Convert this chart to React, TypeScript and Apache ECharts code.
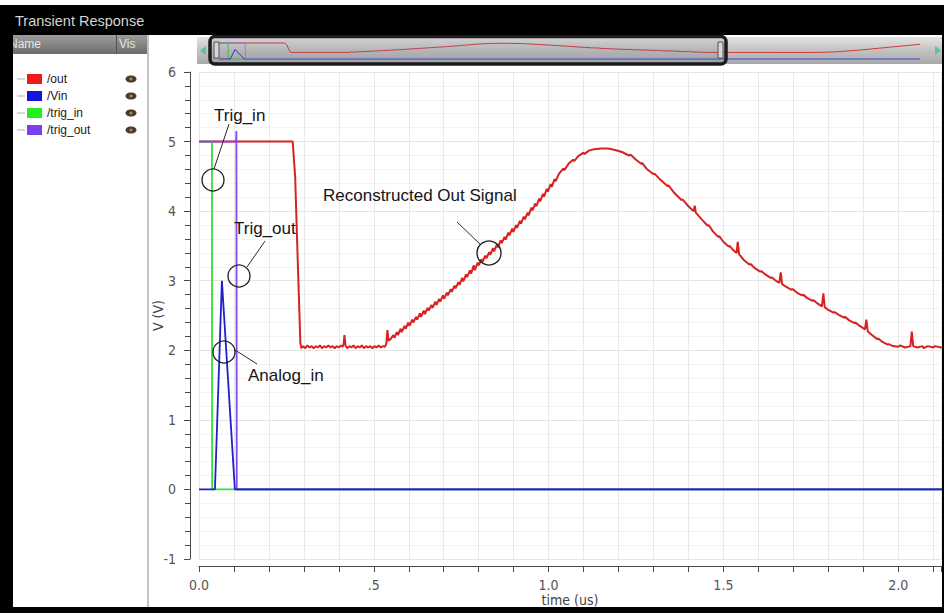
import React, { useEffect, useRef } from "react";
import * as echarts from "echarts";

// ---------------- DATA ----------------
const seriesNames = ["/out", "/Vin", "/trig_in", "/trig_out"];
const seriesColors = ["#d82222", "#1f1fcc", "#3ade3a", "#8448ee"];
const legendColors = ["#f01818", "#1414e0", "#22ee22", "#7a40f0"];

// /out : time (us), voltage (V)
const outHigh: [number, number][] = [
  [0, 5.0], [0.268, 5.0], [0.275, 4.5], [0.283, 3.2], [0.29, 2.1], [0.293, 2.03],
];
const outFlat: [number, number][] = [
  [0.298, 2.06], [0.304, 2.03], [0.31, 2.07], [0.316, 2.04], [0.322, 2.06], [0.328, 2.03],
  [0.334, 2.06], [0.34, 2.04], [0.346, 2.07], [0.352, 2.03], [0.358, 2.06], [0.364, 2.04],
  [0.37, 2.07], [0.376, 2.04], [0.382, 2.06], [0.388, 2.03], [0.394, 2.06], [0.4, 2.04],
  [0.406, 2.07], [0.411, 2.05], [0.414, 2.1], [0.416, 2.22], [0.419, 2.07], [0.424, 2.03],
  [0.43, 2.06], [0.436, 2.04], [0.442, 2.07], [0.448, 2.03], [0.454, 2.06], [0.46, 2.04],
  [0.466, 2.07], [0.472, 2.03], [0.478, 2.06], [0.484, 2.04], [0.49, 2.06], [0.496, 2.03],
  [0.502, 2.06], [0.508, 2.04], [0.514, 2.07], [0.52, 2.04], [0.526, 2.06], [0.532, 2.05],
  [0.536, 2.1], [0.539, 2.29], [0.542, 2.14],
];
const outRise: [number, number][] = [
  [0.548, 2.16], [0.556, 2.22], [0.559, 2.18], [0.566, 2.26], [0.569, 2.22], [0.577, 2.31],
  [0.58, 2.26], [0.588, 2.35], [0.591, 2.31], [0.599, 2.4], [0.602, 2.35], [0.61, 2.44],
  [0.613, 2.4], [0.621, 2.48], [0.624, 2.44], [0.632, 2.53], [0.635, 2.48], [0.643, 2.57],
  [0.646, 2.52], [0.654, 2.61], [0.657, 2.57], [0.665, 2.65], [0.668, 2.61], [0.676, 2.7],
  [0.679, 2.65], [0.687, 2.74], [0.69, 2.7], [0.698, 2.79], [0.701, 2.74], [0.709, 2.83],
  [0.712, 2.79], [0.72, 2.88], [0.723, 2.84], [0.731, 2.93], [0.734, 2.89], [0.742, 2.98],
  [0.745, 2.94], [0.753, 3.04], [0.756, 2.99], [0.764, 3.09], [0.767, 3.05], [0.775, 3.15],
  [0.778, 3.1], [0.786, 3.22], [0.789, 3.15], [0.797, 3.26], [0.8, 3.22], [0.808, 3.31],
  [0.811, 3.27], [0.819, 3.36], [0.822, 3.32], [0.83, 3.41], [0.833, 3.37], [0.841, 3.47],
  [0.844, 3.42], [0.852, 3.52], [0.855, 3.48], [0.863, 3.58], [0.866, 3.54], [0.874, 3.63],
  [0.877, 3.59], [0.885, 3.69], [0.888, 3.65], [0.896, 3.75], [0.899, 3.7], [0.907, 3.8],
  [0.91, 3.76], [0.918, 3.86], [0.921, 3.82], [0.929, 3.92], [0.932, 3.88], [0.94, 3.98],
  [0.943, 3.94], [0.951, 4.05], [0.954, 4.01], [0.962, 4.11], [0.965, 4.07], [0.973, 4.18],
  [0.976, 4.14], [0.984, 4.25], [0.987, 4.21], [0.995, 4.32], [0.998, 4.28], [1.006, 4.39],
  [1.009, 4.35], [1.017, 4.46], [1.02, 4.43], [1.03, 4.54], [1.042, 4.61], [1.045, 4.59],
  [1.057, 4.68], [1.07, 4.74], [1.073, 4.72], [1.085, 4.79], [1.1, 4.84], [1.103, 4.82],
  [1.115, 4.87], [1.13, 4.89], [1.15, 4.9], [1.17, 4.9], [1.19, 4.88],
];
const outFall: [number, number][] = [
  [1.21, 4.85], [1.23, 4.8], [1.235, 4.81], [1.25, 4.74], [1.265, 4.68], [1.268, 4.69],
  [1.28, 4.61], [1.3, 4.53], [1.303, 4.54], [1.32, 4.45], [1.34, 4.36], [1.343, 4.37],
  [1.36, 4.26], [1.38, 4.16], [1.383, 4.17], [1.4, 4.07], [1.415, 4.0], [1.418, 4.08],
  [1.421, 3.98], [1.44, 3.87], [1.455, 3.79], [1.458, 3.8], [1.47, 3.71], [1.485, 3.63],
  [1.488, 3.64], [1.5, 3.56], [1.515, 3.49], [1.518, 3.5], [1.53, 3.43], [1.538, 3.4],
  [1.541, 3.56], [1.545, 3.38], [1.56, 3.29], [1.575, 3.23], [1.578, 3.24], [1.59, 3.18],
  [1.605, 3.13], [1.608, 3.14], [1.62, 3.09], [1.635, 3.04], [1.638, 3.05], [1.65, 3.0],
  [1.66, 2.97], [1.664, 3.12], [1.668, 2.95], [1.68, 2.91], [1.695, 2.87], [1.698, 2.88],
  [1.71, 2.83], [1.725, 2.79], [1.728, 2.8], [1.74, 2.75], [1.755, 2.71], [1.758, 2.72],
  [1.77, 2.67], [1.782, 2.63], [1.786, 2.82], [1.79, 2.62], [1.8, 2.58], [1.815, 2.54],
  [1.818, 2.55], [1.83, 2.51], [1.845, 2.47], [1.848, 2.48], [1.86, 2.43], [1.875, 2.39],
  [1.878, 2.4], [1.89, 2.35], [1.905, 2.3], [1.909, 2.44], [1.913, 2.27], [1.925, 2.22],
  [1.94, 2.16], [1.943, 2.17], [1.955, 2.12], [1.97, 2.08], [1.973, 2.09], [1.985, 2.06],
  [2.0, 2.05], [2.005, 2.07], [2.02, 2.04], [2.035, 2.06], [2.039, 2.27], [2.043, 2.06],
  [2.055, 2.04], [2.07, 2.06], [2.073, 2.03], [2.085, 2.06], [2.1, 2.04], [2.105, 2.06],
  [2.123, 2.04],
];
// part of /out only seen in the overview strip
const outTail: [number, number][] = [
  [2.2, 2.06], [2.3, 2.04], [2.44, 2.05], [2.5, 2.2], [2.6, 2.75], [2.7, 3.5], [2.85, 4.6],
];
const outPoints = [...outHigh, ...outFlat, ...outRise, ...outFall, ...outTail];

const vinPoints: [number, number][] = [[0, 0], [0.0456, 0], [0.0655, 3.0], [0.1026, 0], [2.85, 0]];
const trigInPoints: [number, number][] = [[0, 5], [0.037, 5], [0.0375, 0], [2.85, 0]];
const trigOutPoints: [number, number][] = [[0, 5], [0.106, 5], [0.107, 5.15], [0.108, 0], [2.85, 0]];

const xTickValues = [0, 0.5, 1, 1.5, 2];
const xTickLabels = ["0.0", ".5", "1.0", "1.5", "2.0"];

const annotationTexts = ["Trig_in", "Trig_out", "Analog_in", "Reconstructed Out Signal"];

// ---------------- STYLE ----------------
const labelFont = "'Liberation Sans Narrow', 'DejaVu Sans Condensed', 'Liberation Sans', sans-serif";
const textFont = "'Liberation Sans', Arial, sans-serif";

function buildGraphics() {
  const els: any[] = [];
  // overview strip background
  els.push({
    type: "rect", z: 1, shape: { x: 197, y: 37, width: 747, height: 27 },
    style: {
      fill: { type: "linear", x: 0, y: 0, x2: 0, y2: 1, colorStops: [
        { offset: 0, color: "#e4e4e4" }, { offset: 0.5, color: "#c2c2c2" }, { offset: 1, color: "#a9a9a9" }] },
    },
  });
  els.push({ type: "polygon", z: 5, shape: { points: [[206, 46], [206, 55], [200, 50.5]] }, style: { fill: "#4fc6b2" } });
  els.push({ type: "polygon", z: 5, shape: { points: [[935, 46], [935, 55], [941, 50.5]] }, style: { fill: "#4fc6b2" } });
  els.push({
    type: "rect", z: 50, shape: { x: 210, y: 36.5, width: 516, height: 27.5, r: 5 },
    style: { fill: "rgba(70,70,100,0.10)", stroke: "#1c1c1c", lineWidth: 3.5 },
  });
  els.push({ type: "rect", z: 51, shape: { x: 214, y: 42, width: 5, height: 16 }, style: { fill: "#d6d6d6", stroke: "#555", lineWidth: 1 } });
  els.push({ type: "rect", z: 51, shape: { x: 718, y: 42, width: 5, height: 16 }, style: { fill: "#d6d6d6", stroke: "#555", lineWidth: 1 } });

  // frame: title bar and borders
  els.push({ type: "rect", z: 100, shape: { x: 0, y: 5, width: 944, height: 30 }, style: { fill: "#000" } });
  els.push({
    type: "text", z: 101, x: 15, y: 21,
    style: { text: "Transient Response", fill: "#d4d4d4", font: `14.5px ${textFont}`, textVerticalAlign: "middle", verticalAlign: "middle" },
  });
  // legend panel header
  els.push({
    type: "rect", z: 90, shape: { x: 13, y: 35, width: 135, height: 19 },
    style: { fill: { type: "linear", x: 0, y: 0, x2: 0, y2: 1, colorStops: [
      { offset: 0, color: "#9c9c9c" }, { offset: 1, color: "#6c6c6c" }] } },
  });
  els.push({ type: "line", z: 91, shape: { x1: 116.5, y1: 35, x2: 116.5, y2: 54 }, style: { stroke: "#505050", lineWidth: 1 } });
  els.push({ type: "text", z: 92, x: 9, y: 44, style: { text: "Name", fill: "#e6e6e6", font: `12px ${textFont}`, textVerticalAlign: "middle", verticalAlign: "middle" } });
  els.push({ type: "text", z: 92, x: 119, y: 44, style: { text: "Vis", fill: "#e6e6e6", font: `12px ${textFont}`, textVerticalAlign: "middle", verticalAlign: "middle" } });
  els.push({ type: "rect", z: 90, shape: { x: 147, y: 35, width: 2, height: 572 }, style: { fill: "#c4c4c4" } });

  // legend rows
  seriesNames.forEach((name, i) => {
    const cy = 79 + i * 17;
    els.push({ type: "line", z: 90, shape: { x1: 17, y1: cy, x2: 25, y2: cy }, style: { stroke: "#b0b0b0", lineWidth: 1 } });
    els.push({ type: "rect", z: 90, shape: { x: 27, y: cy - 5, width: 15, height: 10 }, style: { fill: legendColors[i] } });
    els.push({
      type: "text", z: 90, x: 47, y: cy,
      style: { text: name, fill: "#202020", font: `12px ${textFont}`, textVerticalAlign: "middle", verticalAlign: "middle" },
    });
    els.push({ type: "ellipse", z: 90, shape: { cx: 131, cy, rx: 5.5, ry: 3.5 }, style: { fill: "#4a3b2c" } });
    els.push({ type: "circle", z: 91, shape: { cx: 131, cy, r: 1.5 }, style: { fill: "#9a8a70" } });
  });

  // borders
  els.push({ type: "rect", z: 100, shape: { x: 0, y: 35, width: 13, height: 578 }, style: { fill: "#000" } });
  els.push({ type: "rect", z: 100, shape: { x: 0, y: 607, width: 944, height: 6 }, style: { fill: "#000" } });
  els.push({ type: "rect", z: 100, shape: { x: 942, y: 35, width: 2, height: 578 }, style: { fill: "#000" } });

  // annotations
  const ann = [
    { text: annotationTexts[0], tx: 214, ty: 115, line: [229, 124, 214, 169], c: [213, 180, 11] },
    { text: annotationTexts[1], tx: 234, ty: 228, line: [265, 241, 247, 267], c: [239, 276, 11] },
    { text: annotationTexts[2], tx: 248, ty: 375, line: [235, 350, 257, 364], c: [224, 352, 11] },
    { text: annotationTexts[3], tx: 323, ty: 195, line: [457, 222, 481, 245], c: [489, 253, 12] },
  ];
  ann.forEach((a) => {
    els.push({
      type: "text", z: 60, x: a.tx, y: a.ty,
      style: { text: a.text, fill: "#151515", font: `17px ${textFont}`, textVerticalAlign: "middle", verticalAlign: "middle" },
    });
    els.push({ type: "line", z: 60, shape: { x1: a.line[0], y1: a.line[1], x2: a.line[2], y2: a.line[3] }, style: { stroke: "#2a2a2a", lineWidth: 1 } });
    els.push({ type: "circle", z: 60, shape: { cx: a.c[0], cy: a.c[1], r: a.c[2] }, style: { fill: "none", stroke: "#1e1e1e", lineWidth: 1.3 } });
  });
  return els;
}

function xLabel(v: number): string {
  for (let i = 0; i < xTickValues.length; i++) {
    if (Math.abs(v - xTickValues[i]) < 1e-6) return xTickLabels[i];
  }
  return "";
}

function buildOption(): any {
  const axisColor = "#4a4a4a";
  const mainData = [outPoints, vinPoints, trigInPoints, trigOutPoints];
  const mainOrder = [0, 2, 3, 1]; // out, trig_in, trig_out, Vin on top
  const miniOrder = [0, 2, 1, 3];
  const mainSeries = mainOrder.map((i) => ({
    type: "line", name: seriesNames[i], xAxisIndex: 0, yAxisIndex: 0,
    data: mainData[i], showSymbol: false, symbol: "none", clip: true, silent: true,
    lineStyle: { color: seriesColors[i], width: i === 0 ? 2 : 1.8 }, z: 3,
  }));
  const miniColors = ["#d23a3a", "#2a30d0", "#40cc40", "#9585e2"];
  const miniSeries = miniOrder.map((i) => ({
    type: "line", name: seriesNames[i] + " overview", xAxisIndex: 1, yAxisIndex: 1,
    data: mainData[i], showSymbol: false, symbol: "none", clip: true, silent: true,
    lineStyle: { color: miniColors[i], width: 1 }, z: 3,
  }));
  return {
    animation: false,
    backgroundColor: "#ffffff",
    textStyle: { fontFamily: labelFont },
    grid: [
      { left: 199, top: 72, width: 745, height: 487, containLabel: false },
      { left: 219, top: 39.8, width: 701, height: 22.4, containLabel: false },
    ],
    xAxis: [
      {
        type: "value", gridIndex: 0, min: 0, max: 2.1225, interval: 0.1, offset: 7, position: "bottom",
        axisLine: { show: true, onZero: false, lineStyle: { color: axisColor, width: 1 } },
        axisTick: { show: true, length: 6, lineStyle: { color: axisColor } },
        splitLine: { show: true, lineStyle: { color: "#e9e9e9", width: 1 } },
        axisLabel: { color: "#555", fontSize: 14, fontFamily: labelFont, margin: 12, formatter: (v: number) => xLabel(v) },
        name: "time (us)", nameLocation: "middle", nameGap: 27, nameMoveOverlap: false,
        nameTextStyle: { color: "#444", fontSize: 14, fontFamily: labelFont },
      },
      { type: "value", gridIndex: 1, min: 0, max: 2.85, show: false },
    ],
    yAxis: [
      {
        type: "value", gridIndex: 0, min: -1, max: 6, interval: 1, offset: 9, position: "left",
        axisLine: { show: true, onZero: false, lineStyle: { color: axisColor, width: 1 } },
        axisTick: { show: true, length: 6, lineStyle: { color: axisColor } },
        minorTick: { show: true, splitNumber: 5, length: 5, lineStyle: { color: axisColor } },
        splitLine: { show: true, lineStyle: { color: "#e4e4e4", width: 1 } },
        minorSplitLine: { show: true, lineStyle: { color: "#f3f3f3", width: 1 } },
        axisLabel: { color: "#555", fontSize: 14, fontFamily: labelFont, margin: 14 },
        name: "V (V)", nameLocation: "middle", nameGap: 25, nameRotate: 90, nameMoveOverlap: false,
        nameTextStyle: { color: "#444", fontSize: 14, fontFamily: labelFont },
      },
      { type: "value", gridIndex: 1, min: -1, max: 6, show: false },
    ],
    series: [...mainSeries, ...miniSeries],
    graphic: { elements: buildGraphics() },
  };
}

export default function App() {
  const ref = useRef<HTMLDivElement>(null);
  useEffect(() => {
    document.body.style.margin = "0";
    const chart = echarts.init(ref.current as HTMLDivElement, null, { renderer: "svg" });
    chart.setOption(buildOption());
    return () => chart.dispose();
  }, []);
  return <div ref={ref} style={{ width: 944, height: 613, background: "#fff" }} />;
}
